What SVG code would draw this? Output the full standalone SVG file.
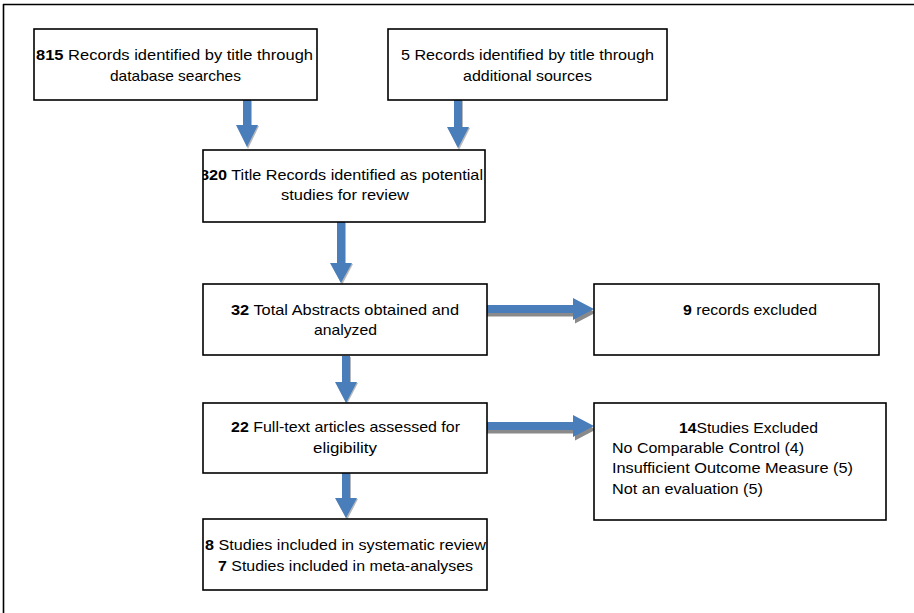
<svg xmlns="http://www.w3.org/2000/svg" width="914" height="613" viewBox="0 0 914 613">
<style>
.box{fill:#fff;stroke:#000;stroke-width:1.6}
.t{font-family:"Liberation Sans",Arial,sans-serif;font-size:15px;fill:#000}
.b{font-weight:bold}
.arr{fill:#4A7EBB}
.sh{fill:#8a8a8a}
.shl{fill:#b8b8b8}
</style>
<defs>
<clipPath id="c3"><rect x="203" y="150" width="282" height="72"/></clipPath>
<clipPath id="c6"><rect x="203" y="519" width="284" height="71"/></clipPath>
</defs>
<rect width="914" height="613" fill="#fff"/>
<g id="frame" fill="none" stroke="#000" stroke-width="1.6">
<line x1="3" y1="4.5" x2="914" y2="4.5"/>
<line x1="3.5" y1="4" x2="3.5" y2="613"/>
</g>
<g id="connectors">
<path class="shl" d="M244,101H252V126H259L248,149L237,126H244Z"/>
<path class="arr" d="M243,100H251V125H258L247,147L236,125H243Z"/>
<path class="shl" d="M455,101H463V128H470L459,150L448,128H455Z"/>
<path class="arr" d="M454,100H462V127H469L458,148L447,127H454Z"/>
<path class="shl" d="M338,223H346V264H353L342,285L331,264H338Z"/>
<path class="arr" d="M337,222H345V263H352L341,283L330,263H337Z"/>
<path class="shl" d="M343,357H351V383H358L347,404L336,383H343Z"/>
<path class="arr" d="M342,356H350V382H357L346,403L335,382H342Z"/>
<path class="shl" d="M343,474H351V499H358L347,520L336,499H343Z"/>
<path class="arr" d="M342,473H350V498H357L346,518L335,498H342Z"/>
<path class="sh" d="M487,308.5H575V301.5L596,312.5L575,323.5V316.5H487Z"/>
<path class="arr" d="M487,305H573V298L594,309L573,320V313H487Z"/>
<path class="sh" d="M487,425.5H575V418.5L596,429.5L575,440.5V433.5H487Z"/>
<path class="arr" d="M487,422H573V415L594,426L573,437V430H487Z"/>
</g>
<g id="n815">
<rect class="box" x="34" y="29" width="283" height="71"/>
<text class="t" x="36" y="60" textLength="277" lengthAdjust="spacingAndGlyphs"><tspan class="b">815</tspan> Records identified by title through</text>
<text class="t" x="110" y="81" textLength="131" lengthAdjust="spacingAndGlyphs">database searches</text>
</g>
<g id="n5">
<rect class="box" x="388" y="29" width="279" height="71"/>
<text class="t" x="401" y="60" textLength="253" lengthAdjust="spacingAndGlyphs">5 Records identified by title through</text>
<text class="t" x="463" y="81" textLength="129" lengthAdjust="spacingAndGlyphs">additional sources</text>
</g>
<g id="n820">
<rect class="box" x="203" y="150" width="282" height="72"/>
<g clip-path="url(#c3)">
<text class="t" x="200" y="180" textLength="283" lengthAdjust="spacingAndGlyphs"><tspan class="b">820</tspan> Title Records identified as potential</text>
</g>
<text class="t" x="281" y="200" textLength="128" lengthAdjust="spacingAndGlyphs">studies for review</text>
</g>
<g id="n32">
<rect class="box" x="203" y="284" width="284" height="71"/>
<text class="t" x="231" y="315" textLength="228" lengthAdjust="spacingAndGlyphs"><tspan class="b">32</tspan> Total Abstracts obtained and</text>
<text class="t" x="314" y="335" textLength="63" lengthAdjust="spacingAndGlyphs">analyzed</text>
</g>
<g id="n9">
<rect class="box" x="594" y="284" width="285" height="71"/>
<text class="t" x="683" y="315" textLength="134" lengthAdjust="spacingAndGlyphs"><tspan class="b">9</tspan> records excluded</text>
</g>
<g id="n22">
<rect class="box" x="203" y="403" width="284" height="70"/>
<text class="t" x="231" y="432" textLength="229" lengthAdjust="spacingAndGlyphs"><tspan class="b">22</tspan> Full-text articles assessed for</text>
<text class="t" x="313" y="453" textLength="64" lengthAdjust="spacingAndGlyphs">eligibility</text>
</g>
<g id="n14">
<rect class="box" x="594" y="403" width="292" height="117"/>
<text class="t" x="679" y="433" textLength="139" lengthAdjust="spacingAndGlyphs"><tspan class="b">14</tspan>Studies Excluded</text>
<text class="t" x="612" y="453" textLength="192" lengthAdjust="spacingAndGlyphs">No Comparable Control (4)</text>
<text class="t" x="612" y="473" textLength="241" lengthAdjust="spacingAndGlyphs">Insufficient Outcome Measure (5)</text>
<text class="t" x="612" y="494" textLength="151" lengthAdjust="spacingAndGlyphs">Not an evaluation (5)</text>
</g>
<g id="n8">
<rect class="box" x="203" y="519" width="284" height="71"/>
<g clip-path="url(#c6)">
<text class="t" x="205" y="550" textLength="281" lengthAdjust="spacingAndGlyphs"><tspan class="b">8</tspan> Studies included in systematic review</text>
</g>
<text class="t" x="218" y="571" textLength="255" lengthAdjust="spacingAndGlyphs"><tspan class="b">7</tspan> Studies included in meta-analyses</text>
</g>
</svg>
